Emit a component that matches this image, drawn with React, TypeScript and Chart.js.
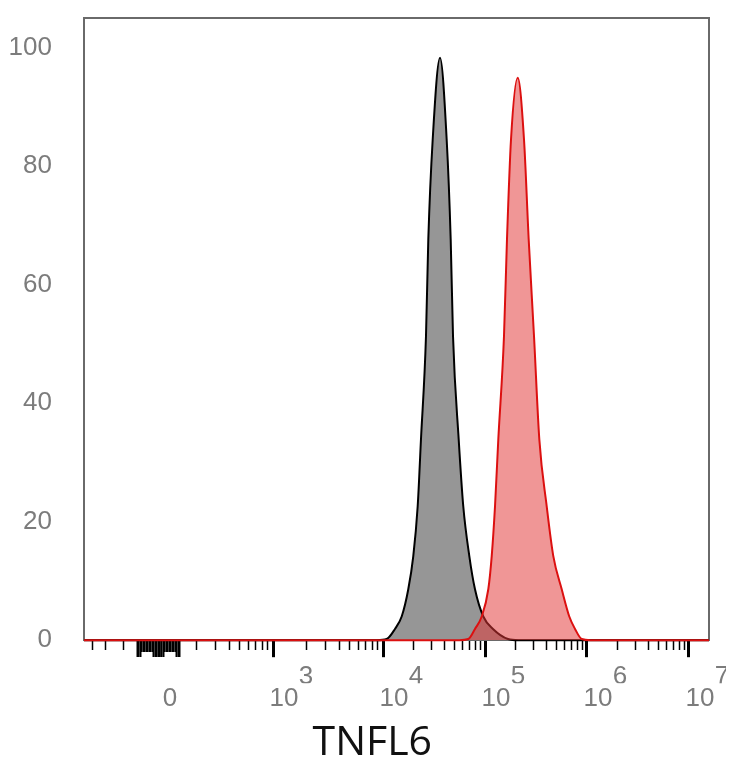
import { useEffect, useRef } from "react";
import { Chart, registerables } from "chart.js";

Chart.register(...registerables);

// ---- data (channel position on the biexponential display axis, % of max) ----
const CHANNEL_MIN = 0;
const CHANNEL_MAX = 1024;

const isotypeChannel = [0, 480, 495.9, 509.5, 520.5, 531.3, 539.5, 546.7, 552.1, 560.3, 564.1, 571.3, 583.3, 594.2, 600.8, 604.6, 613.9, 621.4, 631.3, 640.6, 654.2, 670.1, 694.7, 712, 1024];
const isotypePercent = [0, 0, 0.2, 1.9, 4.0, 8.6, 14.2, 22.6, 33.9, 51.3, 67.6, 84.5, 98.3, 84.5, 67.6, 51.3, 33.9, 22.6, 14.2, 8.6, 4.0, 1.9, 0.2, 0, 0];

const stainedChannel = [0, 615, 629.6, 640.6, 651.6, 662.4, 668.0, 673.4, 678.8, 688.1, 693.0, 699.6, 710.6, 720.9, 728.6, 737.3, 746.0, 758.1, 768.9, 782.7, 795.1, 804.5, 815.4, 830, 1024];
const stainedPercent = [0, 0, 0.2, 1.9, 4.0, 8.6, 14.2, 22.6, 33.9, 51.3, 67.6, 84.5, 94.9, 84.5, 67.6, 51.3, 33.9, 22.6, 14.2, 8.6, 4.0, 1.9, 0.2, 0, 0];

// ---- axis ticks ----
const yTickValues = [0, 20, 40, 60, 80, 100];
const decadeExponents = ["3", "4", "5", "6", "7"];
const decadeChannels = [309.7, 489.9, 657.0, 824.1, 991.2];
const zeroChannel = 122.9;
const negativeMinorChannels = [14.7, 36.0, 63.9];
const clusterStart = 87;
const clusterEnd = 157;
const clusterTallRanges = [[86, 94], [114, 130], [150, 157]];
const baseLabels = ["0", "10", "10", "10", "10", "10"];
const axisTitle = "\u00A0TNFL6";

type TickKind = "major" | "tall" | "cluster" | "minor";
interface TickDef { value: number; kind: TickKind }

function buildTicks(): TickDef[] {
  const t: TickDef[] = [];
  negativeMinorChannels.forEach((v) => t.push({ value: v, kind: "minor" }));
  for (let v = clusterStart; v <= clusterEnd; v += 2.5) {
    const tall = clusterTallRanges.some(([a, b]) => v >= a && v <= b);
    t.push({ value: v, kind: tall ? "tall" : "cluster" });
  }
  t.push({ value: zeroChannel, kind: "tall" });
  // 200..900 below 10^3
  const w0 = decadeChannels[1] - decadeChannels[0];
  for (let k = 2; k <= 9; k++) {
    t.push({ value: decadeChannels[0] - (1 - Math.log10(k)) * w0, kind: "minor" });
  }
  decadeChannels.forEach((c, i) => {
    t.push({ value: c, kind: "major" });
    if (i < decadeChannels.length - 1) {
      const w = decadeChannels[i + 1] - c;
      for (let k = 2; k <= 9; k++) t.push({ value: c + Math.log10(k) * w, kind: "minor" });
    }
  });
  return t.sort((a, b) => a.value - b.value);
}

const LABEL_COLOR = "#7c7c7c";
const FRAME_COLOR = "#6a6a6a";
const LABEL_FONT = "'Liberation Sans', Arial, sans-serif";

export default function App() {
  const ref = useRef<HTMLCanvasElement | null>(null);

  useEffect(() => {
    if (!ref.current) return;
    const ticks = buildTicks();
    const lenFor: Record<TickKind, number> = { major: 0, tall: 16, cluster: 11, minor: 9 };
    const widthFor: Record<TickKind, number> = { major: 3, tall: 2, cluster: 2, minor: 1.5 };

    const chart = new Chart(ref.current, {
      type: "line",
      data: {
        datasets: [
          {
            label: "Isotype",
            data: isotypeChannel.map((x, i) => ({ x, y: isotypePercent[i] })),
            borderColor: "#000000",
            backgroundColor: "#969696",
            borderWidth: 2,
            fill: "origin",
            pointRadius: 0,
            cubicInterpolationMode: "monotone",
            order: 2,
            clip: 4,
            xAxisID: "x",
            yAxisID: "y",
          },
          {
            label: "TNFL6",
            data: stainedChannel.map((x, i) => ({ x, y: stainedPercent[i] })),
            borderColor: "#dc1010",
            backgroundColor: "rgba(226,53,53,0.52)",
            borderWidth: 2,
            fill: "origin",
            pointRadius: 0,
            cubicInterpolationMode: "monotone",
            order: 1,
            clip: 4,
            xAxisID: "x",
            yAxisID: "y",
          },
        ],
      },
      options: {
        animation: false,
        responsive: true,
        maintainAspectRatio: false,
        layout: { padding: 0 },
        plugins: {
          legend: { display: false },
          tooltip: { enabled: false },
          title: {
            display: true,
            text: axisTitle,
            position: "bottom",
            color: "#111111",
            padding: 0,
            font: { family: "'Open Sans', sans-serif", size: 41, weight: "normal", lineHeight: 0.8 },
          },
        },
        scales: {
          x: {
            type: "linear",
            axis: "x",
            position: "bottom",
            weight: 0,
            min: CHANNEL_MIN,
            max: CHANNEL_MAX,
            afterBuildTicks: (s: any) => { s.ticks = ticks.map((t) => ({ value: t.value })); },
            afterFit: (s: any) => { s.height = 17; s.paddingLeft = 0; s.paddingRight = 0; },
            ticks: { display: false },
            grid: {
              display: true,
              drawOnChartArea: false,
              drawTicks: true,
              tickLength: 17,
              tickColor: "#000000",
              tickWidth: (ctx: any) => widthFor[ticks[ctx.index]?.kind ?? "minor"],
              tickBorderDash: (ctx: any) => {
                const k = ticks[ctx.index]?.kind ?? "minor";
                return k === "major" ? [] : [lenFor[k], 100];
              },
            },
            border: { display: true, color: FRAME_COLOR, width: 2 },
          },
          xSup: {
            type: "linear",
            axis: "x",
            position: "bottom",
            weight: 1,
            min: CHANNEL_MIN,
            max: CHANNEL_MAX,
            afterBuildTicks: (s: any) => { s.ticks = decadeChannels.map((v) => ({ value: v })); },
            afterFit: (s: any) => { s.height = 26; s.paddingLeft = 0; s.paddingRight = 0; },
            ticks: {
              autoSkip: false,
              maxRotation: 0,
              minRotation: 0,
              padding: 4,
              labelOffset: 33,
              color: LABEL_COLOR,
              font: { family: LABEL_FONT, size: 26 },
              callback: (_v: any, i: number) => decadeExponents[i],
            },
            grid: { display: false, drawTicks: false },
            border: { display: false },
          },
          xLab: {
            type: "linear",
            axis: "x",
            position: "bottom",
            weight: 2,
            min: CHANNEL_MIN,
            max: CHANNEL_MAX,
            afterBuildTicks: (s: any) => { s.ticks = [zeroChannel, ...decadeChannels].map((v) => ({ value: v })); },
            afterFit: (s: any) => { s.height = 44; s.paddingLeft = 0; s.paddingRight = 0; },
            ticks: {
              autoSkip: false,
              maxRotation: 0,
              minRotation: 0,
              padding: 0,
              labelOffset: 11,
              color: LABEL_COLOR,
              font: { family: LABEL_FONT, size: 26 },
              callback: (_v: any, i: number) => baseLabels[i],
            },
            grid: { display: false, drawTicks: false },
            border: { display: false },
          },
          xTop: {
            type: "linear",
            axis: "x",
            position: "top",
            min: CHANNEL_MIN,
            max: CHANNEL_MAX,
            afterFit: (s: any) => { s.height = 10; s.paddingLeft = 0; s.paddingRight = 0; },
            ticks: { display: false },
            grid: { display: false, drawTicks: false },
            border: { display: true, color: FRAME_COLOR, width: 2 },
          },
          y: {
            type: "linear",
            axis: "y",
            position: "left",
            min: 0,
            max: 105,
            afterBuildTicks: (s: any) => { s.ticks = yTickValues.map((v) => ({ value: v })); },
            afterFit: (s: any) => { s.width = 76; s.paddingTop = 0; s.paddingBottom = 0; },
            ticks: {
              padding: 32,
              color: LABEL_COLOR,
              font: { family: LABEL_FONT, size: 26 },
            },
            grid: { display: false, drawTicks: false },
            border: { display: true, color: FRAME_COLOR, width: 2 },
          },
          yRight: {
            type: "linear",
            axis: "y",
            position: "right",
            min: 0,
            max: 105,
            afterFit: (s: any) => { s.width = 17; s.paddingTop = 0; s.paddingBottom = 0; },
            ticks: { display: false },
            grid: { display: false, drawTicks: false },
            border: { display: true, color: FRAME_COLOR, width: 2 },
          },
        },
      } as any,
    });
    return () => chart.destroy();
  }, []);

  return (
    <div style={{ width: 718, height: 752, position: "relative" }}>
      <canvas ref={ref} />
    </div>
  );
}
